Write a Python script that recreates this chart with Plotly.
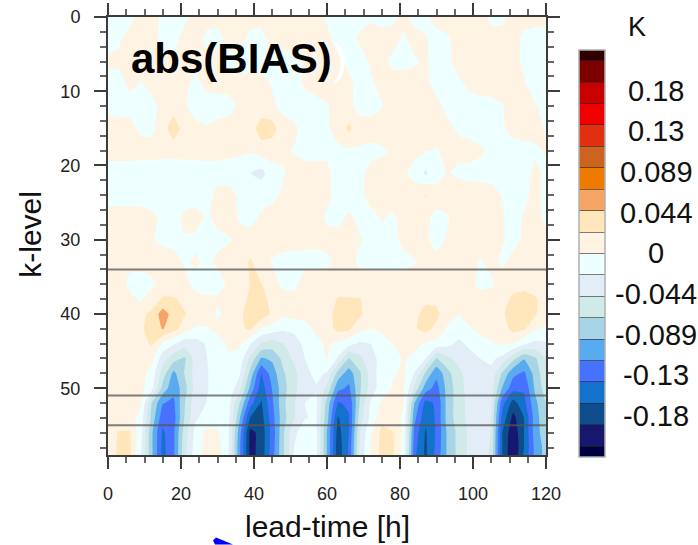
import numpy as np
import plotly.graph_objects as go

lead_time = list(range(0, 121, 3))
k_levels = [0, 3, 6, 9, 12, 15, 18, 21, 24, 27, 30, 33, 36, 38, 40, 42, 44, 46, 48, 50, 52, 54, 56, 58, 59]

# values in hundredths of a kelvin, one list per k-level
k00 = [-.6,-.6,-.4,.5,.6,-.3,-.5,-.3,.4,.6,.5,.6,.7,.6,.5,.5,.4,.6,.7,.5,-.2,-.5,-.6,-.4,-.2,-.5,-.3,.3,-.4,-.3,.5,.6,.6,.6,.5,-.2,-.3,.4,.5,.5,.6]
k03 = [-.8,-.2,.6,.7,.5,-.4,-.5,.5,.7,-.4,-.5,.4,.5,-.4,-.5,.5,.6,.6,.7,.6,.4,-.5,-.6,.2,.5,.6,.5,-.2,.5,.1,-.5,-.2,.5,.6,.6,.3,.6,.5,-.3,-.6,-.7]
k06 = [.4,.3,.4,.5,.4,.5,.4,.3,.4,.5,.6,-.3,-.5,-.6,-.5,-.2,-.5,-.6,.2,.5,.5,.3,-.3,-.6,.2,.5,-.4,-.5,-.2,.2,-.5,-.3,.5,.6,.6,.5,.5,.4,-.2,-.6,-.7]
k09 = [-.7,-.6,.3,-.1,.4,.5,.8,.3,-.4,.4,.5,.5,.5,.6,.5,-.1,-.5,-.5,.2,.6,.6,.6,.3,-.5,-.3,.5,.7,.8,.7,.2,-.3,-.5,-.3,.3,.6,.7,.7,.6,.1,-.5,-.7]
k12 = [-.3,-.6,-.6,-.6,-.4,.4,.6,.2,-.6,-.7,-.7,-.5,.2,.6,.7,.3,-.5,-.7,-.7,-.5,-.1,.5,.3,-.5,-.6,-.1,.6,.8,.8,.7,.3,-.3,-.5,-.6,-.5,-.5,-.1,.5,.6,.1,-.4]
k15 = [.5,.6,.5,-.3,-.3,.8,4,.6,.4,.1,.5,.6,.7,.9,3.5,3.2,.7,.3,-.5,-.6,-.2,.6,2.8,.7,.7,.7,.8,.8,.7,.6,.5,.3,-.2,-.5,-.6,-.6,-.2,.5,.6,.4,-.1]
k18 = [.6,.6,.7,.6,.5,.5,.4,.5,.6,.6,.5,.4,.3,.3,1,.9,.2,-.1,-.5,-.5,-.2,-.3,-.4,-.2,-.4,-.2,.1,.2,.3,.1,-.1,.3,.4,.5,.2,-.3,-.5,-.6,-.5,-.2,.1]
k21 = [-.7,-.7,-.8,-.8,-.7,-.8,-.7,-.7,-.8,-.7,-.6,-.7,-.8,-2.2,-3,-.8,-.1,.5,.6,.6,.2,-.5,-.6,-.4,.4,.5,.6,.2,-.4,-2.6,-.6,.1,-.3,-.4,-.5,-.6,-.5,-.5,-.6,.3,-.3]
k24 = [-.6,-.7,-.7,-.6,-.7,-.6,-.7,-.7,-.6,-.5,.4,.5,-.2,-.4,-.5,-.3,.2,.5,.6,.6,.3,-.5,-.6,-.3,.5,.7,.7,.8,.6,2.4,.7,.8,.8,.7,.7,.6,-.1,-.4,-.3,.4,-.3]
k27 = [.6,.7,.7,.6,.3,-.3,-.5,.3,.5,-.2,.4,.5,-.1,-.4,.2,.5,.5,.6,.6,.5,-.2,-.4,.2,-.3,-.4,.1,-.2,.4,.5,.4,-.4,-.1,.5,.6,.6,.5,.1,-.4,.1,.4,-.3]
k30 = [.5,.5,.6,.4,.1,-.3,-.5,-.1,-.3,-.5,-.4,-.1,.3,.5,.4,.5,.5,.5,.4,.3,.4,.5,.5,.1,-.4,-.5,-.3,.3,.5,.2,-.4,.1,.5,.5,.6,.5,.1,-.4,.2,.5,.4]
k33 = [.3,.4,.5,.6,.6,.7,.6,-.2,.2,-.3,.3,.5,.6,2.6,.5,-.1,-.4,-.5,-.5,-.4,-.3,.4,.4,-.3,-.5,-.5,-.5,-.4,-.1,.3,.4,.5,.5,.5,-.1,.3,-.2,.4,.5,.5,.4]
k36 = [1,1,-.5,-.8,-.3,.8,.8,.5,-.5,-.8,-.8,.3,1,2.3,2.3,.8,-.5,-.5,.8,.8,.8,.8,.8,.8,.8,.8,.8,.8,.8,.8,.8,.8,.1,.8,-.5,-.2,.8,.8,1.2,.8,.2]
k38 = [1,1,.5,-.3,.8,2.5,2.5,1.5,.5,.3,.3,.8,1,2.8,3.5,1,.8,.8,.8,.8,.8,2.4,2.4,2.3,1.5,.8,.8,.8,.8,1.6,1.6,.8,.8,.8,.8,.8,.8,3,3.4,2.6,.8]
k40 = [1,1,1,1.6,2.8,5.5,3.5,2.4,1,1,-.3,.5,1.8,3,3.6,1.8,.5,.8,.8,.8,1,3.5,3.4,2.6,1,.8,.8,.8,1.4,3.2,2.8,.8,.1,.6,.8,.8,1.8,3.6,3.6,2.5,.8]
k42 = [1,1.2,1.6,2,2.8,4.6,3,1,-.2,-.2,.5,.6,1.8,2.6,-.2,-1,-1.8,-1.5,-.8,.5,1,3,2.6,.6,-.1,.3,.8,.8,2,3,1.6,-.3,-.9,-.2,.5,.8,1,3,2.6,.2,-.3]
k44 = [1.2,1.2,1.2,1.4,2.5,-.5,-2,-3.5,-3.2,-2,-.8,.3,.4,-2,-4.7,-5.5,-4.5,-3.5,-1.5,-.8,.4,-.6,-1.5,-2.6,-2.2,-.6,0,.6,.6,-.2,-.8,-1.5,-2.8,-1.8,-.8,-.2,.3,-.2,-2,-2.8,-2.5]
k46 = [1,1,1,.8,.6,-3.5,-5.8,-7,-3.5,-2.3,-1,-.3,-.8,-5,-9.2,-8.5,-6,-4,-2.2,-1,.1,-2.5,-6.8,-5,-3,-1.5,-.8,.2,-.5,-2.2,-6.8,-5,-3.8,-3,-2.2,-1.8,-2.8,-6,-8.7,-7,-4.5]
k48 = [1.2,1,1,.8,-.8,-5.5,-9.5,-6.5,-3.5,-2.5,-.8,-.3,-1.8,-7.5,-13.3,-10,-7,-5,-3,-1.5,-2.5,-7.5,-10,-7,-3.5,-1,-.2,.3,-2.4,-7,-10.5,-7.5,-5,-3.5,-3,-2.8,-7,-10.5,-11.5,-8,-5]
k50 = [1,1,.8,.6,-1.5,-7.5,-10.5,-7.5,-3.5,-2.5,-.8,-.8,-3.5,-9.5,-14.5,-11,-7.5,-5,-3,-2.5,-5,-10.5,-11.5,-7,-3.5,-1,.2,.3,-5,-10,-12,-8,-5.5,-3.5,-3,-3.5,-9,-12.5,-13,-8.5,-5.5]
k52 = [.8,.8,.8,.3,-6.7,-11,-11.5,-6.8,-3,-2.2,-1,-1.5,-6.5,-12.5,-15.8,-11.5,-7.2,-4.6,-2.2,-1.6,-7.5,-13.5,-13,-6.5,-1.8,.3,.6,.2,-9,-14,-13,-8,-5.5,-3.8,-3,-4,-12.5,-16.5,-14,-9.5,-6.7]
k54 = [.8,.8,.8,-.8,-7.5,-12.5,-12,-6.5,-2.5,-1.5,-1,-1.5,-8.5,-15.8,-16.5,-12,-7.5,-4.6,-2.3,-2,-8,-15.8,-13.5,-5.5,-1.5,1.5,.8,-.3,-10.5,-15,-13,-8,-5.5,-3.8,-3,-4.5,-14,-18.5,-15.5,-10,-7]
k56 = [1,2.4,2.4,-1.5,-8.5,-13.8,-11.5,-5.5,-1.5,.5,.3,-2,-10,-18.5,-17,-12.5,-7,-2.5,-1.5,-1.5,-9,-16.5,-13.3,-4.5,-.2,2.8,2.4,-.5,-12,-15.8,-13,-8.5,-6,-4,-3,-4.5,-15.5,-19.5,-15.5,-10,-7.5]
k58 = [1,2.6,2.6,-1.8,-8.5,-14,-11.5,-5.2,-1.2,.8,.9,-2,-10.5,-18.5,-17,-12.2,-7,-2.2,-1.2,-1.5,-9,-17,-13,-4,.3,2.9,2.6,-.8,-12.5,-16,-12.8,-8.5,-6,-4,-2.9,-4.8,-15.5,-20,-15.5,-10.5,-8]
k59 = [1,2.6,2.6,-2,-8.5,-14,-11.5,-5,-1,.8,1,-2,-10.5,-18.5,-17,-12,-7,-2,-1,-1.5,-9,-17,-13,-4,.5,2.8,2.5,-1,-13,-16,-12.5,-8.5,-6,-4,-2.8,-5,-15.5,-20,-15,-10.5,-8]
z_rows = [k00,k03,k06,k09,k12,k15,k18,k21,k24,k27,k30,k33,k36,k38,k40,k42,k44,k46,k48,k50,k52,k54,k56,k58,k59]

band_colors = ["#000040","#17176f","#0d4d8c","#1272cc","#4672ff","#58abee","#a8d5e5","#cfeae8","#e3edf8","#eeffff",
               "#fff3e3","#ffe6bb","#f5a565","#ef7a00","#cc6420","#e03010","#f00000","#c80000","#7d0000","#2e0000"]
bar_labels = ["0.18","0.13","0.089","0.044","0","-0.044","-0.089","-0.13","-0.18"]
bar_label_values = [0.1778,0.1333,0.0889,0.0444,0,-0.0444,-0.0889,-0.1333,-0.1778]
marked_levels = [34, 51, 55]

W, H = 698, 545
L, R, T, B = 108, 546, 17, 455.5
pw, ph = R-L, B-T
def px(x): return (x-L)/pw
def py(y): return (B-y)/ph

z = np.array(z_rows)/100.0
step = 0.2/9
n = len(band_colors)
scale = [[i/(n-1), c] for i, c in enumerate(band_colors)]

BAR_TOP, BAR_BOT = 50, 457
fig = go.Figure()
fig.add_trace(go.Contour(
    x=lead_time, y=k_levels, z=z,
    autocontour=False,
    contours=dict(start=-0.2, end=0.2001, size=step, coloring="fill", showlines=False),
    line=dict(width=0, smoothing=0.4),
    colorscale=scale, hoverinfo="skip",
    colorbar=dict(
        x=px(579), xanchor="left", xpad=0, ypad=0,
        y=py(BAR_TOP), yanchor="top",
        lenmode="pixels", len=BAR_BOT-BAR_TOP,
        thicknessmode="pixels", thickness=26,
        outlinecolor="#b0b0b0", outlinewidth=1.5,
        tickmode="array", tickvals=[round(-0.2+i*step,5) for i in range(19)],
        ticks="inside", ticklen=26, tickwidth=1, tickcolor="rgba(40,40,40,0.6)",
        showticklabels=False,
    ),
))
for lv in marked_levels:
    fig.add_trace(go.Scatter(x=[0,120], y=[lv,lv], mode="lines",
                             line=dict(color="rgba(85,85,85,0.75)", width=2),
                             showlegend=False, hoverinfo="skip"))

FONT = "Liberation Sans"
axcol = "#3c3c3c"
tick = dict(ticks="outside", ticklen=12, tickwidth=2, tickcolor=axcol, showline=True, linecolor=axcol,
            linewidth=2, mirror="ticks", showgrid=False, zeroline=False,
            tickfont=dict(family=FONT, size=18, color="#222"))
fig.update_xaxes(range=[0,120], tick0=0, dtick=20, ticklabelstandoff=9,
                 minor=dict(dtick=5, ticks="outside", ticklen=6, tickwidth=1.5, tickcolor="#666", showgrid=False), **tick)
fig.update_yaxes(range=[59,0], tick0=0, dtick=10, ticklabelstandoff=10,
                 minor=dict(dtick=2, ticks="outside", ticklen=6, tickwidth=1.5, tickcolor="#666", showgrid=False), **tick)

ann = []
def text(x, y, s, size, color="#111", bold=False, angle=0):
    ann.append(dict(xref="paper", yref="paper", x=px(x), y=py(y), text=f"<b>{s}</b>" if bold else s,
                    showarrow=False, xanchor="center", yanchor="middle", textangle=angle,
                    font=dict(family=FONT, size=size, color=color)))
text(231, 59, "abs(BIAS)", 42, "#000", True)
text(340, 60, ")", 42, "#fff", False)
text(327, 527, "lead-time [h]", 30)
text(31, 235, "k-level", 30, angle=-90)
text(637, 27, "K", 27)
for lab, v in zip(bar_labels, bar_label_values):
    y = BAR_TOP + (0.2222-v)/(2*0.2222)*(BAR_BOT-BAR_TOP)
    text(656, y, lab, 29)

blob = [(213,541),(216,538),(233,545),(215,545)]
path = "M " + " L ".join(f"{px(a):.4f} {py(b):.4f}" for a,b in blob) + " Z"

fig.update_layout(width=W, height=H, margin=dict(l=L, r=W-R, t=T, b=H-B, autoexpand=False),
                  paper_bgcolor="white", plot_bgcolor="white", showlegend=False,
                  annotations=ann,
                  shapes=[dict(type="path", xref="paper", yref="paper", path=path, fillcolor="#0000ff", line=dict(width=0))])
fig.write_html("out.html", config=dict(displayModeBar=False),
               post_script="document.body.style.margin='0';document.body.style.overflow='hidden';")
